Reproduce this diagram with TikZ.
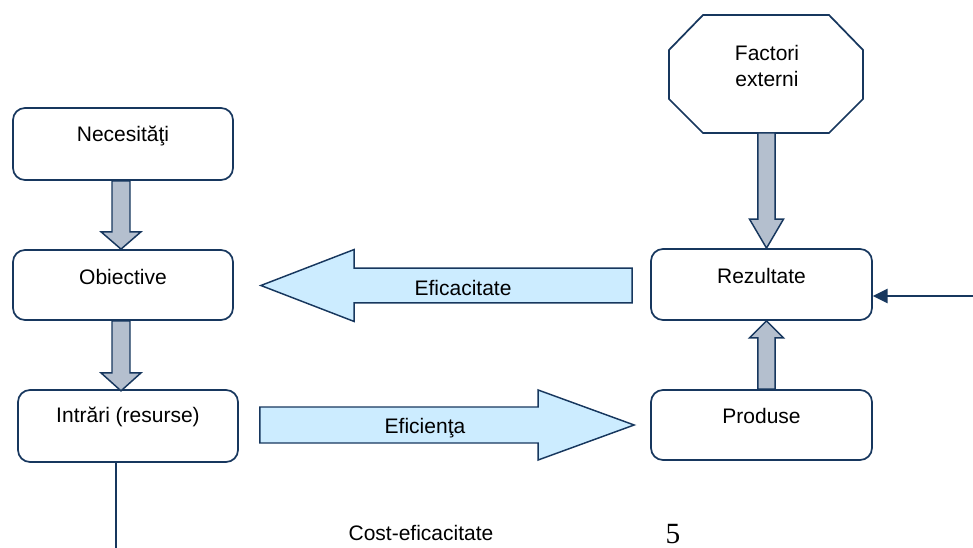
\documentclass[tikz,border=0pt]{standalone}
\usepackage{fontspec}
\setmainfont{Liberation Sans}
\newfontfamily\serifnum{Liberation Serif}
\usetikzlibrary{arrows.meta,calc}
\definecolor{navy}{HTML}{17375E}
\definecolor{grayblue}{HTML}{B4BFCE}
\definecolor{lightblue}{HTML}{CCECFF}
\tikzset{
  box/.style={draw=navy, line width=1.3pt, rounded corners=9pt, fill=white, inner sep=0pt},
  boxtext/.style={font=\fontsize{15.75}{19}\selectfont},
  garrow/.style={draw=navy, fill=grayblue, line width=1.1pt, line join=miter},
  barrow/.style={draw=navy, fill=lightblue, line width=1.1pt, line join=miter},
  lbl/.style={font=\fontsize{15.75}{19}\selectfont, inner sep=0pt},
}
\begin{document}
\begin{tikzpicture}[x=0.75pt,y=-0.75pt]
\useasboundingbox (0,0) rectangle (973,548);
% left column boxes
\node[box, minimum width=165pt, minimum height=54pt,
      label={[boxtext, yshift=6pt]center:Necesităţi}] (nec) at (123,144) {};
\node[box, minimum width=165pt, minimum height=52.5pt,
      label={[boxtext, yshift=6pt]center:Obiective}] (obj) at (123,285) {};
\node[box, minimum width=165pt, minimum height=54pt,
      label={[boxtext, yshift=7pt]center:Intrări (resurse)}] (intr) at (128,426) {};
% right column boxes
\node[box, minimum width=165.75pt, minimum height=53.25pt,
      label={[boxtext, yshift=6.5pt]center:Rezultate}] (rez) at (761.5,284.5) {};
\node[box, minimum width=165.75pt, minimum height=52.5pt,
      label={[boxtext, yshift=6.5pt]center:Produse}] (prod) at (761.5,425) {};
% octagon
\draw[navy, line width=1.3pt, fill=white]
  (703,15) -- (829,15) -- (863,50) -- (863,99) -- (829,133) -- (703,133) -- (669,99) -- (669,50) -- cycle;
\node[lbl, align=center, font=\fontsize{15.75}{19.5}\selectfont] (fe) at (767,66) {Factori\\externi};
\coordinate (feb) at (766.5,133);
% vertical grey block arrows
\draw[garrow] let \p1=($(nec.south)+(-2,0)$), \p2=($(obj.north)+(-2,0)$) in
  (\x1-6.75pt,\y1) -- (\x1+6.75pt,\y1) -- (\x1+6.75pt,\y2+13pt) -- (\x1+15pt,\y2+13pt)
  -- (\x1,\y2) -- (\x1-15pt,\y2+13pt) -- (\x1-6.75pt,\y2+13pt) -- cycle;
\draw[garrow] let \p1=($(obj.south)+(-2,0)$), \p2=($(obj.south -| nec.south)+(-2,70)$) in
  (\x1-6.75pt,\y1) -- (\x1+6.75pt,\y1) -- (\x1+6.75pt,\y2+13.5pt) -- (\x1+15pt,\y2+13.5pt)
  -- (\x1,\y2) -- (\x1-15pt,\y2+13.5pt) -- (\x1-6.75pt,\y2+13.5pt) -- cycle;
\draw[garrow] let \p1=(feb), \p2=(feb |- rez.north) in
  (\x1-6.4pt,\y1) -- (\x1+6.4pt,\y1) -- (\x1+6.4pt,\y2+21.75pt) -- (\x1+12.75pt,\y2+21.75pt)
  -- (\x1,\y2) -- (\x1-12.75pt,\y2+21.75pt) -- (\x1-6.4pt,\y2+21.75pt) -- cycle;
\draw[garrow] let \p1=(feb |- prod.north), \p2=(feb |- rez.south) in
  (\x1-6.4pt,\y1) -- (\x1+6.4pt,\y1) -- (\x1+6.4pt,\y2-12.75pt) -- (\x1+12.75pt,\y2-12.75pt)
  -- (\x1,\y2) -- (\x1-12.75pt,\y2-12.75pt) -- (\x1-6.4pt,\y2-12.75pt) -- cycle;
% horizontal light-blue block arrows
\draw[barrow] let \p1=($(rez.west)+(-18,1)$), \p2=($(obj.east)+(27,0)$) in
  (\x1,\y1+13.1pt) -- (\x1,\y1-13.1pt) -- (\x2+70pt,\y1-13.1pt) -- (\x2+70pt,\y1-27pt)
  -- (\x2,\y1) -- (\x2+70pt,\y1+27pt) -- (\x2+70pt,\y1+13.1pt) -- cycle;
\draw[barrow] let \p1=($(intr.east)+(21,-1)$), \p2=($(prod.west)+(-16,0)$) in
  (\x1,\y1+13.5pt) -- (\x1,\y1-13.5pt) -- (\x2-72pt,\y1-13.5pt) -- (\x2-72pt,\y1-26.25pt)
  -- (\x2,\y1) -- (\x2-72pt,\y1+26.25pt) -- (\x2-72pt,\y1+13.5pt) -- cycle;
\node[lbl] (efc) at (463,288) {Eficacitate};
\node[lbl] (efn) at (425,428) {Eficienţa};
% external arrow into Rezultate
\coordinate (ext) at (973,296);
\draw[navy, line width=1.6pt, -{Triangle[length=11pt,width=10.5pt]}] (ext) -- (ext -| rez.east);
% line down from Intrari
\coordinate (cl) at (116,548);
\draw[navy, line width=1.3pt] (cl |- intr.south) -- (cl);
% bottom texts
\node[lbl] (ce) at (421,533) {Cost-eficacitate};
\node[inner sep=0pt, font=\serifnum\fontsize{22}{24}\selectfont] (pg) at (673,534) {5};
\end{tikzpicture}
\end{document}
